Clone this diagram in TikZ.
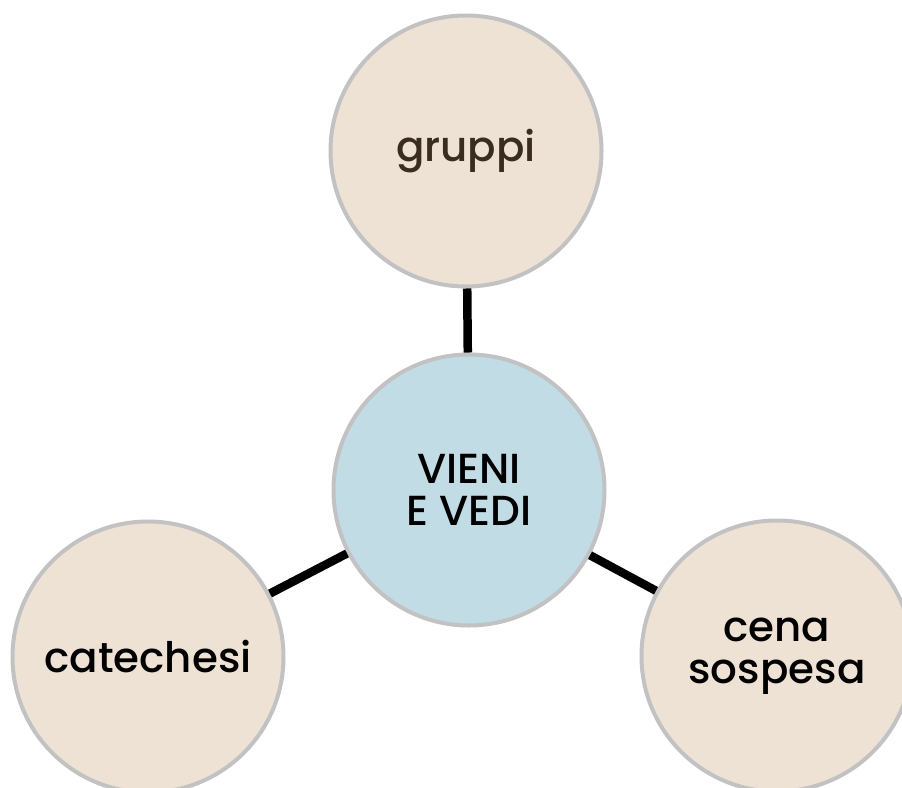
\documentclass[tikz,border=0pt]{standalone}
\usepackage{fontspec}
\setmainfont{Poppins}[UprightFont=* Medium]
\definecolor{beige}{HTML}{EEE2D5}
\definecolor{paleblue}{HTML}{C1DCE4}
\definecolor{ringgray}{HTML}{C2C2C2}
\definecolor{darkbrown}{HTML}{3A2C1F}
\tikzset{
  bubble/.style={circle, draw=ringgray, line width=4pt, minimum size=271pt, inner sep=0pt, align=center,
    font=\fontsize{42}{42}\selectfont},
  side/.style={bubble, fill=beige},
  hub/.style={bubble, fill=paleblue},
  link/.style={line width=8.5pt, black}
}
\begin{document}
\begin{tikzpicture}[x=1pt,y=-1pt]
\useasboundingbox (0,0) rectangle (902,787);
\begin{scope}
\clip (0,0) rectangle (902,787);
\node[side, text=darkbrown] (g) at (466,151) {gruppi};
\node[hub] (c) at (469,490) {VIENI\\E VEDI};
\node[side] (l) at (148,657) {catechesi};
\node[side] (r) at (777,656) {cena\\sospesa};
\draw[link] (g) -- (c);
\draw[link] (l) -- (c);
\draw[link] (r) -- (c);
\end{scope}
\end{tikzpicture}
\end{document}
